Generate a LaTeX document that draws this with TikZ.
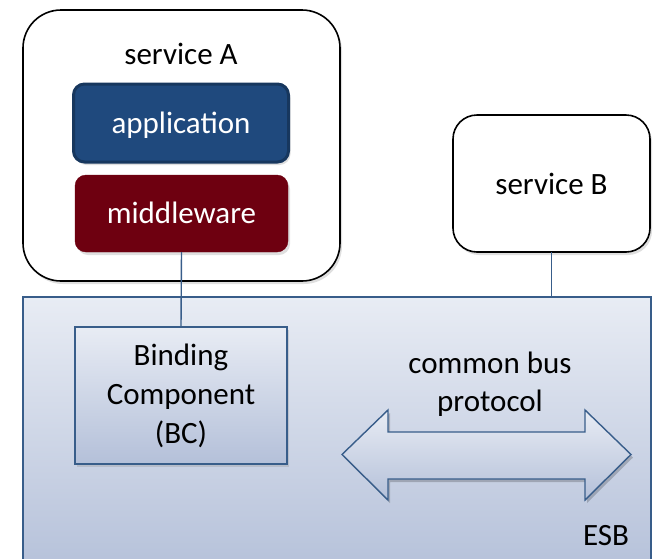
\documentclass[tikz,border=0pt]{standalone}
\usepackage{fontspec}
\setmainfont{Carlito}
\usetikzlibrary{shadows}
\definecolor{appblue}{HTML}{1F497D}
\definecolor{appedge}{HTML}{17375E}
\definecolor{mwred}{HTML}{6E0010}
\definecolor{busedge}{HTML}{385D8A}
\definecolor{bustop}{HTML}{E8ECF4}
\definecolor{busbot}{HTML}{B4C0D9}
\begin{document}
\begin{tikzpicture}[x=1pt,y=-1pt,
  every node/.style={font=\fontsize{31pt}{38pt}\selectfont, inner sep=0pt, outer sep=0pt},
  softshadow/.style={drop shadow={opacity=0.25, shadow xshift=2pt, shadow yshift=-3pt}},
  servicebox/.style={draw=black, line width=1.6pt, fill=white, softshadow},
  layerbox/.style={rounded corners=11pt, text=white, softshadow, text height=24pt, text depth=4pt},
  busfill/.style={top color=bustop, bottom color=busbot, draw=busedge, line width=1.6pt},
  link/.style={draw=busedge, line width=1.4pt}]
\useasboundingbox (0,0) rectangle (654,558);

% the bus itself, running off the bottom edge
\node[busfill, minimum width=628pt, minimum height=280pt, anchor=north west,
      shading angle=0] (esb) at (23,297) {};
\node[anchor=base] (esblabel) at (606,545) {ESB};

% services
\node[servicebox, rounded corners=38pt, minimum width=317pt, minimum height=271pt,
      anchor=north west] (svcA) at (23,10) {};
\node[anchor=base] (svcAlabel) at (181,64) {service A};
\node[layerbox, fill=appblue, draw=appedge, line width=3pt,
      minimum width=215pt, minimum height=78pt] (app) at (181,123) {application};
\node[layerbox, fill=mwred, draw=mwred,
      minimum width=213pt, minimum height=77pt] (mw) at (181.5,213.5) {middleware};

\node[servicebox, rounded corners=24pt, minimum width=197pt, minimum height=137pt]
      (svcB) at (551.5,183.5) {service B};

% binding component inside the bus
\node[busfill, softshadow, minimum width=212pt, minimum height=137pt, align=center,
      font=\fontsize{31pt}{39pt}\selectfont]
      (bc) at (181,395.5) {Binding\\Component\\(BC)};

% connectors
\draw[link] (mw.south) -- (bc.north);
\draw[link] (svcB.south) -- (svcB.south |- esb.north);

% bidirectional protocol arrow
\node[align=center] (proto) at (490,384) {common bus\\protocol};
\coordinate (tipL) at (342,454.5);
\coordinate (tipR) at (631,454.5);
\fill[black, opacity=0.2] ([shift={(2,3)}]tipL) -- (390,413) -- (390,435) -- (587,435)
   -- (587,413) -- ([shift={(2,3)}]tipR) -- (587,503) -- (587,482) -- (390,482) -- (390,503) -- cycle;
\path[busfill, line width=1.4pt, line join=miter]
   (tipL) -- (388,410) -- (388,432) -- (585,432) -- (585,410) -- (tipR)
   -- (585,500) -- (585,479) -- (388,479) -- (388,500) -- cycle;
\end{tikzpicture}
\end{document}
